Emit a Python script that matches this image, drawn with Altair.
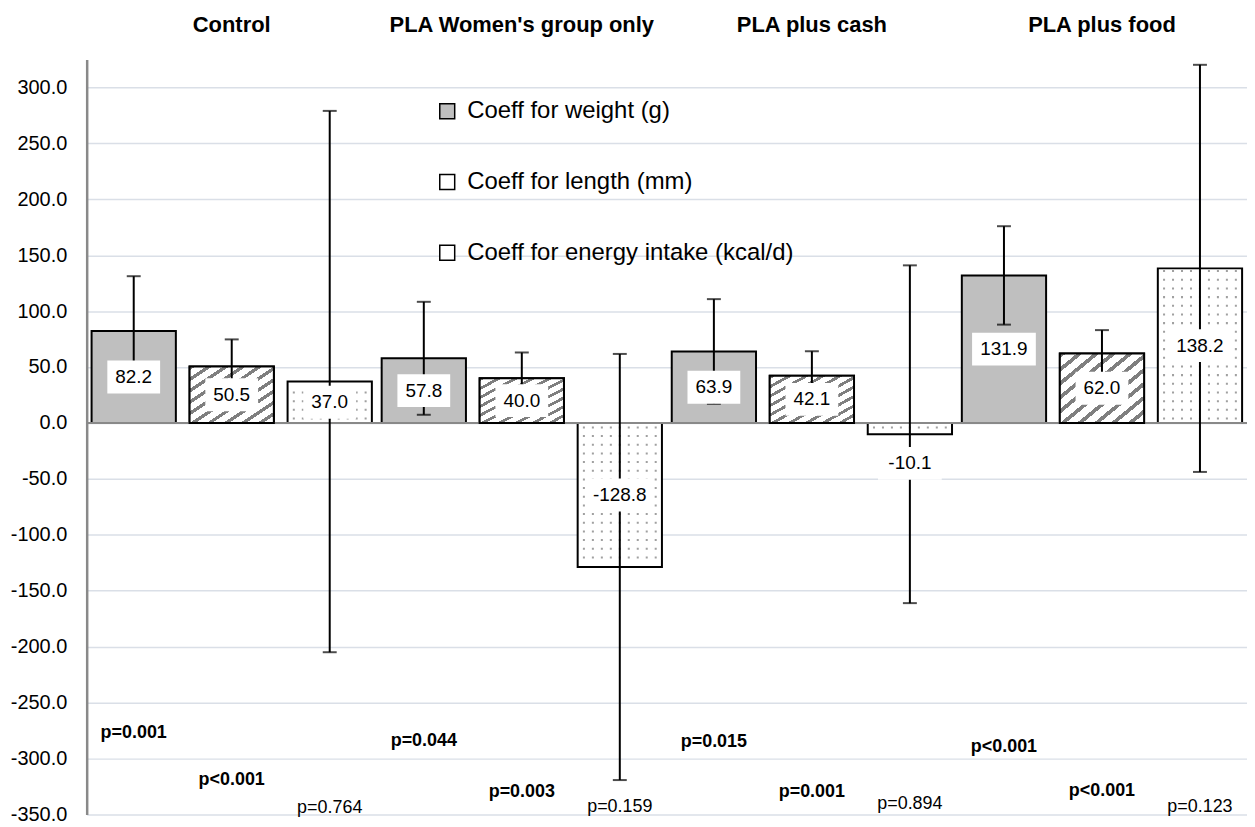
import altair as alt
import pandas as pd

FONT = "Liberation Sans"

groups = ["Control", "PLA Women's group only", "PLA plus cash", "PLA plus food"]
series = ["Coeff for weight (g)", "Coeff for length (mm)", "Coeff for energy intake (kcal/d)"]

weight = [82.2, 57.8, 63.9, 131.9]
weight_lo = [33.2, 7.3, 17.1, 87.9]
weight_hi = [131.2, 108.3, 110.7, 175.9]

length = [50.5, 40.0, 42.1, 62.0]
length_lo = [26.3, 17.0, 20.1, 41.0]
length_hi = [74.7, 63.0, 64.1, 83.0]

energy = [37.0, -128.8, -10.1, 138.2]
energy_lo = [-205.0, -319.3, -161.1, -43.8]
energy_hi = [279.0, 61.7, 140.9, 320.2]

p_weight = ["p=0.001", "p=0.044", "p=0.015", "p<0.001"]
p_length = ["p<0.001", "p=0.003", "p=0.001", "p<0.001"]
p_energy = ["p=0.764", "p=0.159", "p=0.894", "p=0.123"]

# vertical placement of the p-value annotations (data units)
p_weight_y = [-277, -284, -285, -290]
p_length_y = [-319, -330, -330, -329]
p_energy_y = [-344, -343, -341, -343]

y_ticks = list(range(-350, 301, 50))

rows = []
sets = [
    (series[0], weight, weight_lo, weight_hi, p_weight, p_weight_y),
    (series[1], length, length_lo, length_hi, p_length, p_length_y),
    (series[2], energy, energy_lo, energy_hi, p_energy, p_energy_y),
]
for gi, g in enumerate(groups):
    for s, v, lo, hi, p, py in sets:
        val = v[gi]
        ptxt = p[gi]
        sig = ptxt.startswith("p<") or float(ptxt[2:]) < 0.05
        label = f"{val:.1f}"
        label_y = val / 2 if abs(val) >= 20 else val - 26
        rows.append(dict(group=g, series=s, value=val, lo=lo[gi], hi=hi[gi],
                         p=ptxt, p_y=py[gi], sig=sig, label=label,
                         label_y=label_y, nchar=len(label)))
df = pd.DataFrame(rows)

yscale = alt.Scale(domain=[-350, 325], nice=False)
yaxis = alt.Axis(values=y_ticks, ticks=False, labelFontSize=20,
                 labelFont=FONT, labelColor="black", labelPadding=20,
                 labelExpr="replace(format(datum.value, '.1f'), '\u2212', '-')",
                 domainColor="#898989", domainWidth=2.5,
                 gridColor="#dadfe7", gridWidth=1.5)


def Y(field):
    return alt.Y(field, scale=yscale, axis=yaxis, title=None)


xenc = alt.X("group:N", sort=groups, title=None,
             scale=alt.Scale(paddingInner=0, paddingOuter=0),
             axis=alt.Axis(orient="top", labelFontWeight="bold", labelFontSize=22,
                           labelPadding=23, ticks=False, domain=False, labelAngle=0,
                           labelColor="black", labelFont=FONT, grid=False,
                           labelLimit=0))
xoff = alt.XOffset("series:N", sort=series,
                   scale=alt.Scale(paddingInner=0.14, paddingOuter=0.05))

base = alt.Chart(df)

zero_rule = alt.Chart(pd.DataFrame({"z": [0]})).mark_rule(
    color="#898989", strokeWidth=2).encode(y=Y("z:Q"))

bars = base.mark_bar(stroke="black", strokeWidth=2).encode(
    x=xenc, xOffset=xoff,
    y=Y("value:Q"),
    fill=alt.Fill("series:N", sort=series,
                  scale=alt.Scale(domain=series, range=["#bfbfbf", "#ffffff", "#ffffff"]),
                  legend=alt.Legend(orient="none", legendX=350, legendY=40, title=None,
                                    symbolType="square", symbolSize=225,
                                    symbolStrokeColor="black", symbolStrokeWidth=1.5,
                                    labelFontSize=24, labelFont=FONT, labelColor="black",
                                    rowPadding=47, padding=0, labelOffset=8,
                                    labelLimit=600)),
)

# diagonal hatch for the length bars
stops = []
periods = 10
for i in range(periods):
    a = i / periods
    b = a + 0.35 / periods
    c = (i + 1) / periods
    stops += [
        {"offset": a, "color": "#7f7f7f"},
        {"offset": b, "color": "#7f7f7f"},
        {"offset": b, "color": "#ffffff"},
        {"offset": c, "color": "#ffffff"},
    ]
hatch = {"gradient": "linear", "x1": 0, "y1": 0, "x2": 1, "y2": 1, "stops": stops}

hatch_bars = base.transform_filter(alt.datum.series == series[1]).mark_bar(
    fill=hatch, stroke="black", strokeWidth=2).encode(
    x=xenc, xOffset=xoff, y=Y("value:Q"))

# dotted texture for the energy bars: one symbol = a row of nine small dots
dot_row = " ".join(
    f"M{-0.89 + i * 0.2225 - 0.025:.4f},-0.025h0.05v0.05h-0.05z" for i in range(9)
)
dots = (
    base.transform_filter(alt.datum.series == series[2])
    .transform_calculate(
        rowy="datum.value > 0 ? sequence(4, datum.value - 2, 7.75) : sequence(-4, datum.value + 2, -7.75)"
    )
    .transform_flatten(["rowy"])
    .mark_point(shape=dot_row, size=6561, filled=True, fill="#a0a0a0",
                strokeWidth=0, opacity=1)
    .encode(x=xenc, xOffset=xoff, y=Y("rowy:Q"))
)

err = base.mark_rule(color="black", strokeWidth=2).encode(
    x=xenc, xOffset=xoff, y=Y("lo:Q"), y2="hi:Q")

caps = base.transform_fold(["lo", "hi"], as_=["end", "v"]).mark_tick(
    color="black", thickness=2, size=14, orient="horizontal").encode(
    x=xenc, xOffset=xoff, y=Y("v:Q"))

box_layers = []
for n, w in [(4, 53), (5, 64), (6, 66)]:
    box_layers.append(
        base.transform_filter(alt.datum.nchar == n)
        .transform_calculate(blo="datum.label_y - 14.7", bhi="datum.label_y + 14.7")
        .mark_bar(width=w, fill="white", strokeWidth=0)
        .encode(x=xenc, xOffset=xoff, y=Y("blo:Q"), y2="bhi:Q")
    )

labels = base.mark_text(fontSize=19, font=FONT, color="black", baseline="middle").encode(
    x=xenc, xOffset=xoff, y=Y("label_y:Q"), text="label:N")

p_bold = base.transform_filter(alt.datum.sig).mark_text(
    fontSize=18, font=FONT, fontWeight="bold", color="black", baseline="middle").encode(
    x=xenc, xOffset=xoff, y=Y("p_y:Q"), text="p:N")
p_norm = base.transform_filter(~alt.datum.sig).mark_text(
    fontSize=18, font=FONT, color="black", baseline="middle").encode(
    x=xenc, xOffset=xoff, y=Y("p_y:Q"), text="p:N")

chart = alt.layer(
    bars, zero_rule, hatch_bars, dots, err, caps, *box_layers, labels, p_bold, p_norm
).properties(
    width=1165, height=758,
    padding={"left": 79, "top": 50, "right": 0, "bottom": 12},
    autosize=alt.AutoSizeParams(type="none"),
    background="white",
).configure_view(stroke=None)

chart.save("out.html", embed_options={"renderer": "svg", "actions": False})
